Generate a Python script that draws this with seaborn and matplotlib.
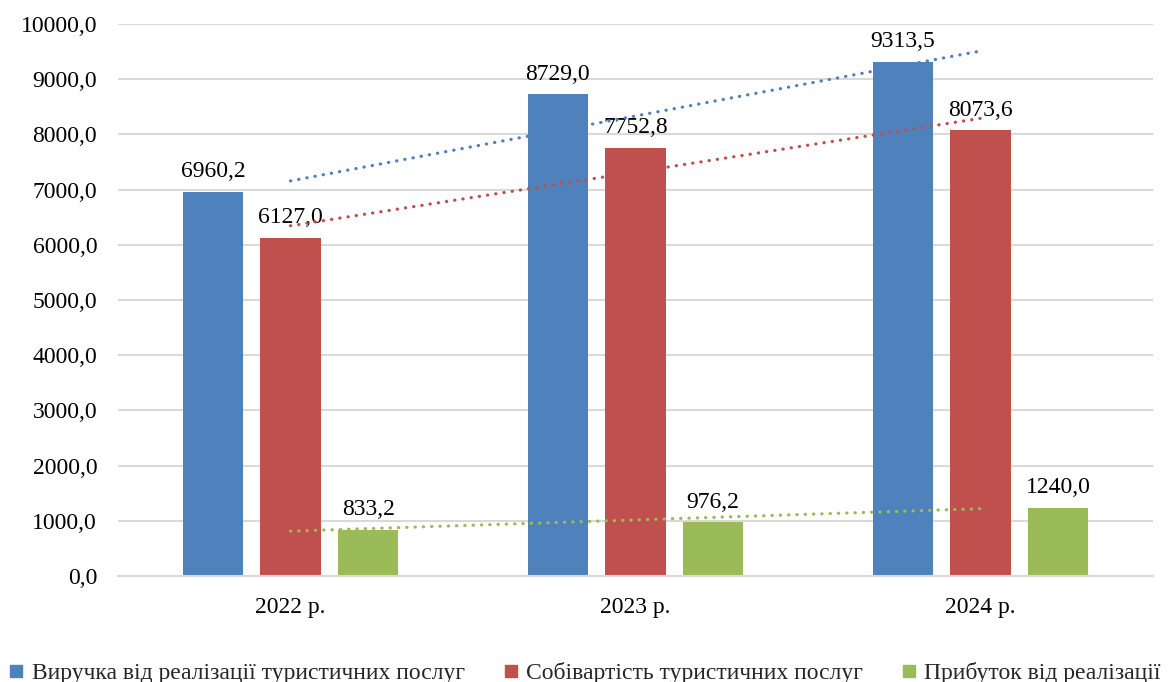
import numpy as np
import pandas as pd
import matplotlib
matplotlib.use("Agg")
import matplotlib.pyplot as plt
from matplotlib.lines import Line2D
import seaborn as sns

categories = ["2022 р.", "2023 р.", "2024 р."]
series_names = ["Виручка від реалізації туристичних послуг",
                "Собівартість туристичних послуг",
                "Прибуток від реалізації"]
revenue = [6960.2, 8729.0, 9313.5]
cost = [6127.0, 7752.8, 8073.6]
profit = [833.2, 976.2, 1240.0]
colors = ["#4F81BD", "#C0504D", "#9BBB59"]

sns.set_theme(style="white")
plt.rcParams['font.family'] = ['Liberation Serif', 'DejaVu Serif']

rows = []
for name, vals in zip(series_names, [revenue, cost, profit]):
    for c, v in zip(categories, vals):
        rows.append({"cat": c, "series": name, "value": v})
df = pd.DataFrame(rows)

fig = plt.figure(figsize=(11.75, 6.82), dpi=100)
ax = fig.add_axes([0.1004, 0.1554, 0.8809, 0.8094])

sns.barplot(data=df, x="cat", y="value", hue="series", palette=colors,
            width=0.675, gap=0.222, ax=ax, legend=False, saturation=1,
            edgecolor="none")

# data labels
for cont in ax.containers:
    for bar in cont:
        h = bar.get_height()
        ax.annotate(f"{h:.1f}".replace(".", ","),
                    (bar.get_x() + bar.get_width() / 2, h),
                    xytext=(0, 10.5), textcoords="offset points",
                    ha="center", va="baseline", fontsize=17, color="black")

# linear trendlines
xs = np.arange(len(categories))
for vals, col in zip([revenue, cost, profit], colors):
    k, b = np.polyfit(xs, vals, 1)
    ax.plot([0, 2], [b, b + 2 * k], color=col, lw=2.3,
            linestyle=(0, (0.1, 2.5)), dash_capstyle="round", zorder=5)

ax.set_xlim(-0.5, 2.5)
ax.set_ylim(0, 10000)
ax.set_yticks(np.arange(0, 10001, 1000))
ax.set_yticklabels([f"{v:.1f}".replace(".", ",") for v in np.arange(0, 10001, 1000)])
ax.yaxis.grid(True, color="#d9d9d9", lw=1.5)
ax.set_axisbelow(True)
for s in ["left", "right", "top"]:
    ax.spines[s].set_visible(False)
ax.spines["bottom"].set_color("#d9d9d9")
ax.spines["bottom"].set_linewidth(1.5)
ax.tick_params(axis="both", length=0, labelsize=17, colors="black")
ax.tick_params(axis="y", pad=15)
ax.tick_params(axis="x", pad=15)
ax.set_xlabel("")
ax.set_ylabel("")

handles = [Line2D([], [], marker="s", ls="none", color=c, markersize=9) for c in colors]
fig.legend(handles, series_names, loc="lower left", bbox_to_anchor=(0.007, -0.003),
           ncol=3, frameon=False, fontsize=17, handlelength=0.7,
           handletextpad=0.3, columnspacing=1.6, borderpad=0.0, borderaxespad=0.0)

fig.savefig("out.png", dpi=100)
